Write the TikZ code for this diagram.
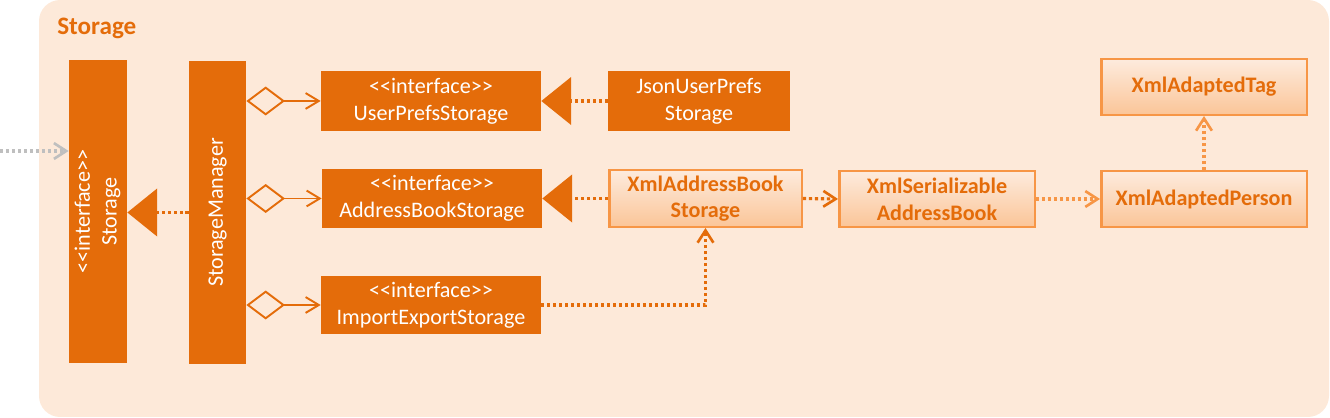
\documentclass[tikz,border=0pt]{standalone}
\usepackage{fontspec}
\setmainfont{Carlito}
\usepackage{graphicx}
\usetikzlibrary{arrows.meta}
\definecolor{dkor}{HTML}{E46C0A}
\definecolor{ltor}{HTML}{F79646}
\definecolor{bgor}{HTML}{FDE9D9}
\definecolor{lttop}{HTML}{FDEBDD}
\definecolor{ltbot}{HTML}{FBC598}
\definecolor{greyarr}{HTML}{BFBFBF}

\begin{document}
\begin{tikzpicture}[x=0.02cm,y=-0.02cm]
    \tikzstyle{dark}=[rectangle,fill=dkor,text=white,inner sep=0pt,align=center,font=\fontsize{12.6}{15.2}\selectfont]
    \tikzstyle{light}=[rectangle,draw=ltor,line width=1.4pt,top color=lttop,bottom color=ltbot,text=dkor,inner sep=0pt,align=center,font=\fontsize{12.6}{15.2}\selectfont\bfseries]
    \tikzstyle{dep}=[line width=1.8pt,dash pattern=on 1.8pt off 1.6pt]
    \tikzstyle{real}=[dep,draw=dkor,-{Triangle[length=17pt,width=27pt]}]
    \tikzstyle{use}=[dep,-{Straight Barb[length=7pt,width=9pt,line width=1.5pt]}]
    \tikzstyle{agg}=[draw=dkor,line width=1.1pt,{Diamond[open,length=22pt,width=16.5pt]}-{Straight Barb[length=7.5pt,width=9pt]}]
    \useasboundingbox (0,0) rectangle (1330,418);
    \fill[bgor,rounded corners=12] (39,0) rectangle (1329,417);
    \node (ttl)[anchor=west,text=dkor,inner sep=0pt,font=\fontsize{14.3}{16}\selectfont\bfseries] at (57,28) {Storage};

    \node (st)[dark,minimum width=1.16cm,minimum height=6.06cm] at (98,211.5) {\rotatebox{90}{\begin{tabular}{@{}c@{}}<{}<interface>{}>\\Storage\end{tabular}}};
    \node (sm)[dark,minimum width=1.14cm,minimum height=6.06cm] at (217.5,212.5) {\rotatebox{90}{StorageManager}};
    \node (ups)[dark,minimum width=4.4cm,minimum height=1.2cm] at (431,101) {<{}<interface>{}>\\UserPrefsStorage};
    \node (abs)[dark,minimum width=4.4cm,minimum height=1.18cm] at (432,198.5) {<{}<interface>{}>\\AddressBookStorage};
    \node (ies)[dark,minimum width=4.4cm,minimum height=1.16cm] at (431,305) {<{}<interface>{}>\\ImportExportStorage};
    \node (jups)[dark,minimum width=3.64cm,minimum height=1.2cm] at (699,101) {JsonUserPrefs\\Storage};
    \node (xabs)[light,minimum width=3.85cm,minimum height=1.13cm] at (705.5,198.5) {XmlAddressBook\\Storage};
    \node (xsab)[light,minimum width=3.91cm,minimum height=1.11cm] at (937,199) {XmlSerializable\\AddressBook};
    \node (xap)[light,minimum width=4.11cm,minimum height=1.11cm] at (1204,199) {XmlAdaptedPerson};
    \node (xat)[light,minimum width=4.11cm,minimum height=1.11cm] at (1204,87) {XmlAdaptedTag};
    \coordinate (src) at (0,151);

    \draw[use,draw=greyarr] (src) -- (src -| st.west);
    \draw[real] (sm.west) -- (sm.west -| st.east);
    \draw[agg] (sm.east |- ups.west) -- (ups.west);
    \draw[agg] (sm.east |- abs.west) -- (abs.west);
    \draw[agg] (sm.east |- ies.west) -- (ies.west);
    \draw[real] (jups.west) -- (ups.east);
    \draw[real] (xabs.west) -- (abs.east);
    \draw[use,draw=dkor] (ies.east) -| (xabs.south);
    \draw[use,draw=dkor] (xabs.east) -- (xsab.west);
    \draw[use,draw=ltor] (xsab.east) -- (xap.west);
    \draw[use,draw=ltor] (xap.north) -- (xat.south);
\end{tikzpicture}
\end{document}
